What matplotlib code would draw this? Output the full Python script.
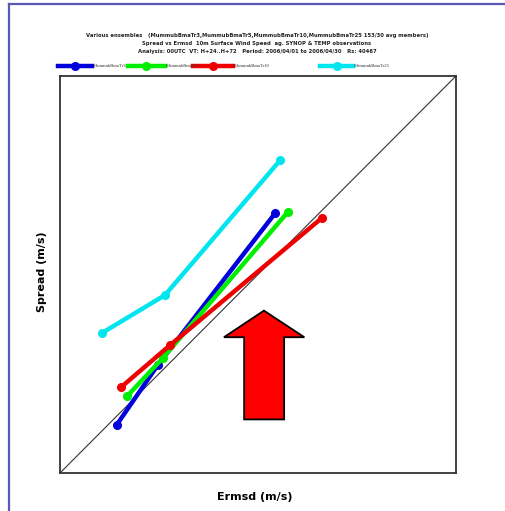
import numpy as np
import matplotlib.pyplot as plt
from matplotlib.patches import Polygon
from matplotlib.lines import Line2D

# ensemble names and colours
names = ["MummubBmaTr3", "MummubBmaTr5", "MummubBmaTr10", "MummubBmaTr25"]
colors = ["#0000dd", "#00ee00", "#ee0000", "#00e5ee"]

# Ermsd (x) and Spread (y) per ensemble, H+24 / H+48 / H+72
ermsd_tr3 = [1.43, 2.47, 5.43]
spread_tr3 = [1.21, 2.72, 6.54]
ermsd_tr5 = [1.70, 2.60, 5.75]
spread_tr5 = [1.94, 2.90, 6.57]
ermsd_tr10 = [1.54, 2.78, 6.62]
spread_tr10 = [2.16, 3.22, 6.43]
ermsd_tr25 = [1.05, 2.65, 5.56]
spread_tr25 = [3.52, 4.48, 7.88]

ermsd = [ermsd_tr3, ermsd_tr5, ermsd_tr10, ermsd_tr25]
spread = [spread_tr3, spread_tr5, spread_tr10, spread_tr25]

title_lines = [
    "Various ensembles   (MummubBmaTr3,MummubBmaTr5,MummubBmaTr10,MummubBmaTr25 153/30 avg members)",
    "Spread vs Ermsd  10m Surface Wind Speed  ag. SYNOP & TEMP observations",
    "Analysis: 00UTC  VT: H+24..H+72   Period: 2006/04/01 to 2006/04/30   Rs: 40467",
]

W, H = 506, 511
fig = plt.figure(figsize=(W / 100, H / 100), dpi=100)
fig.patch.set_facecolor("white")

def fx(px):
    return px / W

def fy(py):
    return 1 - py / H

# page border (left and top)
fig.add_artist(Line2D([fx(9), fx(9)], [0, fy(4)], color="#5a5ab4", lw=1.6))
fig.add_artist(Line2D([fx(9), 1], [fy(4), fy(4)], color="#5a5ab4", lw=1.6))

ax = fig.add_axes([fx(60), fy(473), fx(456) - fx(60), fy(76) - fy(473)])
ax.set_xlim(0, 10)
ax.set_ylim(0, 10)
ax.set_xticks([])
ax.set_yticks([])
for s in ax.spines.values():
    s.set_color("#333333")
    s.set_linewidth(1.3)

ax.plot([0, 10], [0, 10], color="#333333", lw=0.8)

for xs, ys, c in zip(ermsd, spread, colors):
    ax.plot(xs, ys, color=c, lw=3.2, marker="o", markersize=5.5, solid_capstyle="round")

# big red arrow
arrow = [(0.465, 0.135), (0.566, 0.135), (0.566, 0.342), (0.617, 0.342),
         (0.515, 0.409), (0.414, 0.342), (0.465, 0.342)]
ax.add_patch(Polygon(arrow, closed=True, transform=ax.transAxes,
                     facecolor="#ff0000", edgecolor="black", lw=1.3, zorder=5))

fig.text(fx(42), fy(272), "Spread (m/s)", rotation=90,
         ha="center", va="center", fontsize=8, fontweight="bold")
fig.text(fx(255), fy(497), "Ermsd (m/s)", ha="center", va="center",
         fontsize=8, fontweight="bold")

for i, line in enumerate(title_lines):
    fig.text(fx(257), fy(36 + 8 * i), line, ha="center", va="center",
             fontsize=3.8, fontweight="bold", color="#222222")

# legend drawn by hand along the top
leg_x = [(58, 92), (128, 165), (193, 233), (320, 353)]
for (x0, x1), c, n in zip(leg_x, colors, names):
    fig.add_artist(Line2D([fx(x0), fx(x1)], [fy(66), fy(66)], color=c, lw=3.2))
    fig.add_artist(Line2D([fx((x0 + x1) / 2)], [fy(66)], color=c, marker="o", markersize=5.5))
    fig.text(fx(x1 + 1), fy(66), n, ha="left", va="center", fontsize=3.3,
             family="Liberation Serif", color="#333333", zorder=5)

fig.savefig("out.png", dpi=100)
